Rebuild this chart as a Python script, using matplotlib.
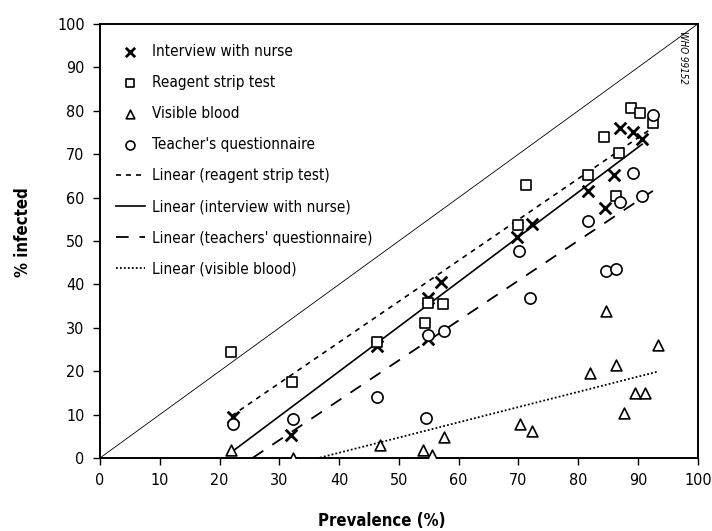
import numpy as np
import matplotlib
matplotlib.use("Agg")
import matplotlib.pyplot as plt

plt.rcParams["font.family"] = ["DejaVu Sans"]
plt.rcParams["font.stretch"] = "condensed"

# Data (prevalence %, % infected) per screening method
nurse_x = [22.2, 32.0, 46.4, 54.8, 57.0, 54.8, 69.7, 72.2, 81.7, 84.4, 86.0, 87.0, 89.2, 90.7]
nurse_y = [9.5, 5.4, 25.7, 36.8, 40.5, 27.5, 51.0, 54.0, 61.5, 57.7, 65.2, 76.0, 75.0, 73.5]

strip_x = [22.0, 32.2, 46.3, 54.3, 54.9, 57.3, 70.0, 71.3, 81.7, 84.3, 86.4, 86.8, 88.9, 90.3, 92.5]
strip_y = [24.5, 17.6, 26.7, 31.0, 35.8, 35.4, 53.6, 63.0, 65.3, 74.0, 60.4, 70.3, 80.6, 79.4, 77.3]

blood_x = [22.0, 32.3, 46.8, 54.1, 55.5, 57.5, 70.2, 72.2, 82.0, 84.7, 86.4, 87.7, 89.5, 91.2, 93.3]
blood_y = [1.8, 0.0, 3.0, 1.8, 0.7, 4.9, 7.8, 6.3, 19.5, 33.9, 21.4, 10.3, 15.0, 14.9, 26.0]

teach_x = [22.3, 32.3, 46.4, 54.6, 54.9, 57.5, 70.1, 71.9, 81.7, 84.6, 86.4, 87.0, 89.2, 90.6, 92.5]
teach_y = [7.8, 9.0, 14.0, 9.1, 28.3, 29.3, 47.8, 36.8, 54.7, 43.1, 43.5, 59.1, 65.6, 60.4, 79.0]

ticks = list(range(0, 101, 10))


def trend(ax, x, y, **kw):
    # Excel-style linear trendline over the data range
    k, b = np.polyfit(x, y, 1)
    xs = np.array([min(x), max(x)])
    return ax.plot(xs, k * xs + b, color="black", **kw)[0]


fig = plt.figure(figsize=(7.12, 5.31), dpi=100)
ax = fig.add_axes([0.1404, 0.1375, 0.8396, 0.8173])

# line of equality
ax.plot([0, 100], [0, 100], color="black", lw=0.6, zorder=1)

h_nurse = ax.scatter(nurse_x, nurse_y, marker="x", s=70, c="black", linewidths=2.0, zorder=3)
h_strip = ax.scatter(strip_x, strip_y, marker="s", s=55, facecolors="white", edgecolors="black", linewidths=1.2, zorder=3)
h_blood = ax.scatter(blood_x, blood_y, marker="^", s=60, facecolors="white", edgecolors="black", linewidths=1.2, zorder=3)
h_teach = ax.scatter(teach_x, teach_y, marker="o", s=65, facecolors="white", edgecolors="black", linewidths=1.2, zorder=3)

l_strip = trend(ax, strip_x, strip_y, lw=1.2, dashes=(3, 3), zorder=2)
l_nurse = trend(ax, nurse_x, nurse_y, lw=1.2, zorder=2)
l_teach = trend(ax, teach_x, teach_y, lw=1.3, dashes=(7, 6), zorder=2)
l_blood = trend(ax, blood_x, blood_y, lw=1.3, dashes=(1, 1.2), zorder=2)

ax.set_xlim(0, 100)
ax.set_ylim(0, 100)
ax.set_xticks(ticks)
ax.set_yticks(ticks)
ax.tick_params(direction="out", length=5, width=1, labelsize=11.5, pad=6)
for s in ax.spines.values():
    s.set_linewidth(1.4)

ax.set_xlabel("Prevalence (%)", fontsize=12, fontweight="bold", labelpad=17)
ax.set_ylabel("% infected", fontsize=12, fontweight="bold", labelpad=18)
ax.xaxis.label.set_x(0.472)
ax.yaxis.label.set_y(0.52)

ax.text(97.6, 98.5, "WHO 99152", rotation=270, fontsize=7, fontstyle="italic",
        ha="center", va="top")

ax.legend([h_nurse, h_strip, h_blood, h_teach, l_strip, l_nurse, l_teach, l_blood],
          ["Interview with nurse", "Reagent strip test", "Visible blood",
           "Teacher's questionnaire", "Linear (reagent strip test)",
           "Linear (interview with nurse)", "Linear (teachers' questionnaire)",
           "Linear (visible blood)"],
          loc="upper left", bbox_to_anchor=(0.003, 0.985), frameon=False,
          fontsize=11, labelspacing=1.05, handlelength=1.9, handletextpad=0.5,
          scatterpoints=1, markerscale=0.8)

fig.savefig("out.png", dpi=100)
